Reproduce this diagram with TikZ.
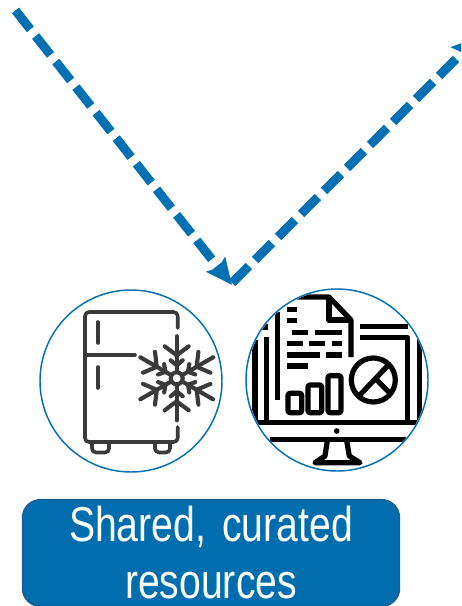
\documentclass[tikz,border=0pt]{standalone}
\usepackage{fontspec}
\setmainfont[FakeStretch=0.8]{Liberation Sans}
\usepackage{xcolor}
\definecolor{flowblue}{HTML}{0070B4}
\definecolor{boxblue}{HTML}{006DAF}
\definecolor{boxedge}{HTML}{1C5F8E}
\definecolor{icongrey}{HTML}{3A3A3A}
\usetikzlibrary{arrows.meta,positioning}

\begin{document}
\begin{tikzpicture}[
    x=0.75pt, y=-0.75pt,
    ring/.style={circle, draw=flowblue, line width=1.1pt, minimum size=136.5pt, inner sep=0pt},
    tagbox/.style={rectangle, draw=boxedge, line width=1.1pt, rounded corners=13.5pt, fill=boxblue, text=white, minimum width=282.75pt, minimum height=80pt, inner sep=0pt, text width=282pt, align=center, font=\fontsize{36.7}{42.75}\selectfont},
    line/.style={draw=flowblue, line width=6.75pt, dash pattern=on 18pt off 6.4pt, -{Stealth[length=19.5pt,width=17.5pt,inset=3pt]}},
    fridge/.style={draw=icongrey, line width=2.7pt, line cap=round, line join=round},
    flake/.style={draw=icongrey, line width=3.1pt, line cap=round},
    screen/.style={draw=black, line width=3.9pt, line join=round},
    textbar/.style={draw=black, line width=3.9pt}
  ]
    \useasboundingbox (0,0) rectangle (461,606);
    \clip (0,0) rectangle (461,606);

    % Nodes - rings and the tag box
    \node [ring] (coldring) at (131,381) {};
    \node [ring] (dataring) at (337,380) {};
    \node [tagbox] (resources) at (211,553) {Shared, curated\\resources};

    % Dashed arrows
    \coordinate (leftstart) at (15.5,10.5);
    \coordinate (meet) at (232,285);
    \coordinate (rightstart) at (232,283);
    \coordinate (rightend) at (478,37);
    \path [line] (leftstart) -- (meet);
    \path [line] (rightstart) -- (rightend);

    % Fridge
    \draw [fridge, rounded corners=3pt] (177.7,328) -- (177.7,312) -- (85,312) -- (85,442) -- (177.7,442) -- (177.7,427);
    \draw [fridge] (85,355) -- (135,355);
    \draw [fridge] (97.7,322) -- (97.7,343);
    \draw [fridge] (97.7,367) -- (97.7,388);
    \draw [fridge, rounded corners=3pt] (92,442) -- (92,452.5) -- (109,452.5) -- (109,442);
    \draw [fridge, rounded corners=3pt] (155,442) -- (155,452.5) -- (170,452.5) -- (170,442);

    % Snowflake
    \draw [flake] (176.7,378.3) circle (6);
    \foreach \ang in {0,60,...,300} {
      \begin{scope}[shift={(176.7,378.3)}, rotate=\ang]
        \draw [flake] (0,-7) -- (0,-42);
        \draw [flake] (-12,-32) -- (0,-23) -- (12,-32);
        \draw [flake] (-6,-18) -- (0,-13) -- (6,-18);
      \end{scope}
    }

    % Monitor with document, bars and pie
    \begin{scope}
      \clip (dataring.center) circle (90);
      \draw [screen] (297,297) -- (329,297) -- (351,320) -- (351,357);
      \draw [screen] (329,297) -- (329,320) -- (351,320);
      \draw [screen] (277.7,312) -- (277.7,400);
      \foreach \xa/\xb/\ya in {286.7/296.7/309.3, 286.7/296.7/320.7, 292/308/332.3, 315/342/332.3, 286.7/302.7/343.7, 309/325/343.7, 331.7/341.7/343.7, 286.7/320/355, 326/341.7/355, 286.7/308/366}
        \draw [textbar] (\xa,\ya) -- (\xb,\ya);
      \foreach \xa/\xb/\ya in {288/301.7/393.3, 308/321.7/385, 328/341/375.7}
        \draw [screen, rounded corners=1.5pt] (\xa,\ya) rectangle (\xb,412.7);
      \draw [screen] (373.3,380) circle (22);
      \draw [screen] (388.3,365) -- (358.3,396.7);
      \draw [screen] (376.7,380) -- (390,393.3);
      \draw [screen] (360,326.7) -- (408,326.7);
      \draw [screen] (360,337.7) -- (407.7,337.7) -- (407.7,420);
      \draw [screen] (419.3,328) -- (419.3,420);
      \draw [screen] (266.7,336.7) -- (266.7,420);
      \draw [screen] (258,327) -- (268,327);
      \draw [screen] (255,340) -- (255,420);
      \draw [screen] (250,422.3) -- (424,422.3);
      \draw [screen] (270,439.3) -- (406.7,439.3);
      \fill (336.7,431) circle (2.8);
      \draw [screen] (327.3,441) -- (325,456) -- (315,462.7) -- (360,462.7) -- (349.3,456) -- (346.7,441);
    \end{scope}
\end{tikzpicture}
\end{document}
